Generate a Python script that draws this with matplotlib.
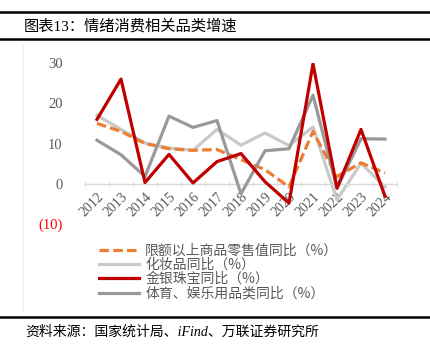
import matplotlib
matplotlib.use('Agg')
import matplotlib.pyplot as plt
from matplotlib.lines import Line2D
from matplotlib.ticker import FixedLocator, FuncFormatter

plt.rcParams['font.family'] = ['Liberation Serif', 'Noto Sans CJK SC', 'DejaVu Sans']

# data
years = ['2012', '2013', '2014', '2015', '2016', '2017', '2018',
         '2019', '2020', '2021', '2022', '2023', '2024']
retail = [15.0, 13.0, 10.0, 8.7, 8.3, 8.5, 6.0, 3.5, -0.8, 13.0, 1.8, 5.2, 2.7]
cosmetics = [17.0, 13.5, 10.1, 8.9, 8.3, 13.5, 9.6, 12.6, 9.5, 14.1, -4.0, 5.1, -0.8]
jewelry = [16.0, 26.0, 0.3, 7.3, 0.2, 5.5, 7.5, 0.5, -4.8, 29.8, -1.1, 13.5, -3.1]
sports = [10.8, 7.2, 1.8, 16.8, 14.0, 15.7, -2.5, 8.2, 8.7, 22.0, -1.1, 11.2, 11.1]

labels = ['限额以上商品零售值同比（%）', '化妆品同比（%）',
          '金银珠宝同比（%）', '体育、娱乐用品类同比（%）']

fig = plt.figure(figsize=(4.31, 3.54), dpi=100)
ax = fig.add_axes([85/431, 1 - 224/354, 312/431, 161/354])

x = list(range(len(years)))
lw = 2.3
ax.plot(x, retail, color='#ED7D31', lw=lw, ls=(0, (3, 1.3)), label=labels[0], zorder=3)
ax.plot(x, cosmetics, color='#C9C9C9', lw=lw, label=labels[1], zorder=2)
ax.plot(x, jewelry, color='#C00000', lw=lw, label=labels[2], zorder=4)
ax.plot(x, sports, color='#999999', lw=lw, label=labels[3], zorder=3)

ax.set_xlim(-0.5, len(years) - 0.5)
ax.set_ylim(-10, 30)
ax.set_yticks([-10, 0, 10, 20, 30])
ax.yaxis.set_major_formatter(FuncFormatter(lambda v, p: '(%d)' % abs(v) if v < 0 else '%d' % v))
ax.tick_params(axis='y', length=0, pad=16, labelsize=10.5, labelcolor='#595959')
for t in ax.get_yticklabels():
    if t.get_text().startswith('('):
        t.set_color('red')

for s in ['top', 'right', 'left']:
    ax.spines[s].set_visible(False)
ax.spines['bottom'].set_position(('data', 0))
ax.spines['bottom'].set_color('#D9D9D9')
ax.spines['bottom'].set_linewidth(1.0)

ax.set_xticks(x)
ax.set_xticklabels(years, rotation=45, ha='right', va='top', rotation_mode='anchor')
ax.tick_params(axis='x', which='major', length=0, pad=5, labelsize=10, labelcolor='#595959')
ax.xaxis.set_minor_locator(FixedLocator([i - 0.5 for i in range(len(years) + 1)]))
ax.tick_params(axis='x', which='minor', length=4, direction='inout', color='#D9D9D9')

leg = fig.legend(loc='upper left', bbox_to_anchor=(93/431, 1 - 238/354), frameon=False,
                 handlelength=2.9, handletextpad=0.45, labelspacing=0.02,
                 borderaxespad=0, prop={'family': ['Noto Sans CJK SC'], 'size': 10})
for t in leg.get_texts():
    t.set_color('#595959')

# header / footer rules and texts
def hline(y, lw=1.8):
    fig.add_artist(Line2D([0, 1], [1 - y/354, 1 - y/354], color='black', lw=lw))

hline(11.5)
hline(39)
hline(317)
# faint frame edge at the left of the chart area
fig.add_artist(Line2D([23/431, 23/431], [1 - 44/354, 1 - 312/354], color='#F0F0F0', lw=0.8))
fig.text(24/431, 1 - 26/354, '图表13：情绪消费相关品类增速', fontsize=11, va='center',
         family=['Liberation Serif', 'Noto Sans CJK SC'])
fig.text(25/431, 1 - 332/354, '资料来源：国家统计局、iFind、万联证券研究所', fontsize=10,
         va='center', style='italic', family=['Liberation Serif', 'Noto Sans CJK SC'])

fig.savefig('out.png', dpi=100)
